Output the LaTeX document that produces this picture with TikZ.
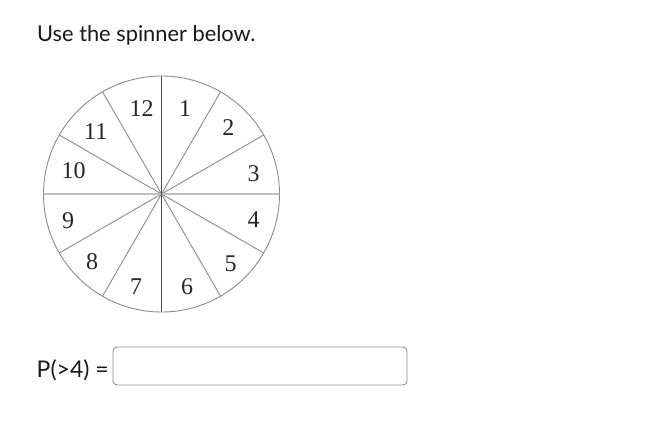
\documentclass[tikz,border=0pt]{standalone}
\usepackage{fontspec}
\usetikzlibrary{calc}
\setmainfont{Liberation Serif}
\newfontfamily\uifont{Lato}
\begin{document}
\begin{tikzpicture}[x=1pt,y=-1pt,
  uitext/.style={inner sep=0pt,font=\uifont\fontsize{23}{27}\selectfont,text=black!90},
  titletext/.style={uitext,font=\uifont\fontsize{21.8}{26}\selectfont},
  num/.style={inner sep=0pt,font=\fontsize{24}{28}\selectfont,text=black!85},
  spoke/.style={draw=black!45,line width=0.9pt},
  rim/.style={draw=black!45,line width=0.9pt},
  answerbox/.style={draw=black!45,line width=0.9pt,rounded corners=4pt,fill=white}]
\useasboundingbox[fill=white] (0,0) rectangle (650,420);
\node[titletext,anchor=base west] (title) at (37,41.5) {Use the spinner below.};
\coordinate (c) at (161.5,194);
\foreach \a in {30,60,120,150,210,240,300,330}{
  \draw[spoke] (c) -- ($(c)+(\a:118pt)$);
}
\draw[draw=black!25,line width=1.6pt] ($(c)+(180:118pt)$) -- ($(c)+(0:118pt)$);
\draw[draw=black!70,line width=1pt] ($(c)+(90:118pt)$) -- ($(c)+(270:118pt)$);
\draw[rim] (c) circle[radius=118pt];
\node[num] (n12) at (141.7,108.3) {12};
\node[num] (n1) at (185,108.3) {1};
\node[num] (n2) at (228.3,128) {2};
\node[num] (n3) at (253.7,173.3) {3};
\node[num] (n4) at (253.7,220) {4};
\node[num] (n5) at (230.7,263.3) {5};
\node[num] (n6) at (187,286.7) {6};
\node[num] (n7) at (136,286.7) {7};
\node[num] (n8) at (92,261.7) {8};
\node[num] (n9) at (68,220.3) {9};
\node[num] (n10) at (73.7,170.3) {10};
\node[num] (n11) at (95.7,131.7) {11};
\node[uitext,anchor=base west] (prob) at (36.5,377) {P(>4) =};
\draw[answerbox] (113,347) rectangle (407,385);
\end{tikzpicture}
\end{document}
